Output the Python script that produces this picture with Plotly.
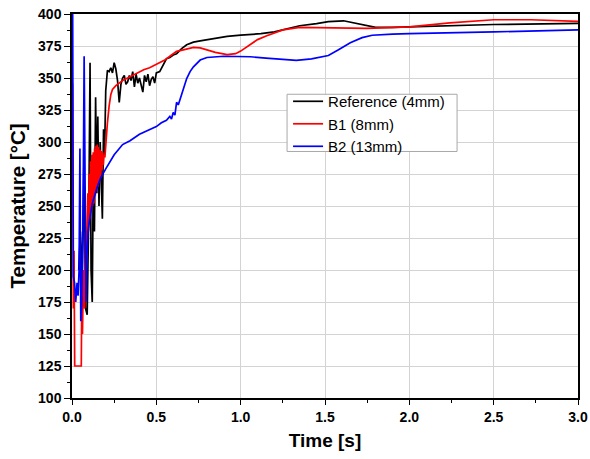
import plotly.graph_objects as go

# ---------------- data ----------------
ref_t = [0.04, 0.05, 0.06, 0.07, 0.08, 0.09, 0.10, 0.107, 0.113, 0.12, 0.127, 0.133, 0.14, 0.147,
         0.153, 0.16, 0.167, 0.173, 0.18, 0.187, 0.193, 0.20, 0.21, 0.22, 0.23, 0.24, 0.25, 0.26,
         0.27, 0.28, 0.29, 0.30, 0.31, 0.32, 0.33, 0.34, 0.35, 0.36, 0.37, 0.38, 0.39, 0.40, 0.41,
         0.42, 0.43, 0.44, 0.45, 0.46, 0.47, 0.48, 0.49, 0.50, 0.52, 0.54, 0.56, 0.58, 0.60, 0.62,
         0.65, 0.68, 0.72, 0.76, 0.85, 0.92, 1.00, 1.12, 1.20, 1.35, 1.45, 1.52, 1.61, 1.70, 1.80,
         1.90, 2.00, 2.50, 3.00]
ref_T = [200, 230, 190, 280, 170, 165, 250, 362, 200, 175, 290, 230, 335, 260,
         320, 250, 300, 270, 240, 310, 290, 340, 356, 355, 358, 354, 362, 357,
         348, 331, 345, 350, 352, 345, 347, 352, 348, 355, 343, 353, 346, 350, 344,
         339, 352, 347, 353, 344, 349, 351, 346, 354, 355, 360, 365, 366, 368, 369,
         373, 376, 378, 379, 381, 382.5, 383.5, 384.6, 386, 390.8, 392.5, 394, 394.7, 392, 389.5,
         389.5, 390, 391.8, 392.6]

b1_t = [0.0, 0.003, 0.008, 0.012, 0.016, 0.02, 0.03, 0.04, 0.05, 0.055, 0.058, 0.062, 0.068,
        0.075, 0.08, 0.085, 0.09, 0.094, 0.098, 0.102, 0.106, 0.11, 0.114, 0.118, 0.122, 0.126,
        0.13, 0.134, 0.138, 0.142, 0.146, 0.15, 0.154, 0.158, 0.162, 0.166, 0.17, 0.174, 0.178,
        0.182, 0.186, 0.19, 0.195, 0.20, 0.21, 0.22, 0.23, 0.24, 0.26, 0.28, 0.30, 0.33, 0.37,
        0.425, 0.46, 0.50, 0.55, 0.58, 0.62, 0.66, 0.72, 0.76, 0.80, 0.85, 0.92, 0.97, 1.00,
        1.06, 1.10, 1.155, 1.25, 1.35, 1.52, 1.75, 2.00, 2.24, 2.50, 2.72, 3.00]
b1_T = [345, 345, 170, 215, 125, 125, 125, 125, 125, 125, 180, 150, 200,
        170, 230, 210, 240, 260, 230, 275, 240, 285, 245, 290, 250, 292,
        252, 295, 258, 297, 262, 298, 265, 296, 268, 294, 272, 293, 278,
        292, 282, 290, 288, 300, 315, 328, 337, 341, 344, 346, 348, 350, 353,
        356.5, 358, 360.4, 364, 367, 370.8, 372, 373.9, 373.5, 372, 370, 368.2, 369, 371,
        376.3, 380, 383, 387.6, 389.5, 389, 388.7, 390, 393, 395.5, 395.5, 394.2]

b2_t = [0.0, 0.004, 0.008, 0.015, 0.022, 0.03, 0.036, 0.042, 0.047, 0.052, 0.058, 0.065, 0.072,
        0.078, 0.083, 0.088, 0.095, 0.105, 0.12, 0.15, 0.17, 0.20, 0.25, 0.30, 0.344, 0.40,
        0.45, 0.50, 0.53, 0.56, 0.58, 0.59, 0.60, 0.61, 0.62, 0.63, 0.64, 0.66, 0.68, 0.70,
        0.72, 0.76, 0.80, 0.90, 1.00, 1.057, 1.15, 1.25, 1.33, 1.42, 1.52, 1.58, 1.65, 1.72,
        1.78, 1.90, 2.00, 2.50, 3.00]
b2_T = [400, 400, 195, 190, 175, 190, 180, 200, 295, 160, 175, 230, 367,
        200, 175, 210, 230, 240, 252, 265, 272, 279, 290, 298, 301, 306,
        309, 312, 315, 317, 320, 318, 323, 321, 331, 329, 333, 341, 349.6, 355,
        358.7, 364, 366, 367, 367, 366.6, 365.5, 364.2, 363.7, 365, 367.6, 372, 377.6, 381.5,
        383.4, 384.3, 384.7, 386, 387.6]

series_names = ["Reference (4mm)", "B1 (8mm)", "B2 (13mm)"]
series_colors = ["#000000", "#ff0000", "#0000ff"]

x_ticks = [0.0, 0.5, 1.0, 1.5, 2.0, 2.5, 3.0]
y_ticks = [100, 125, 150, 175, 200, 225, 250, 275, 300, 325, 350, 375, 400]

# ---------------- figure ----------------
fig = go.Figure()
for t, T, name, col in zip([ref_t, b1_t, b2_t], [ref_T, b1_T, b2_T], series_names, series_colors):
    fig.add_trace(go.Scatter(x=t, y=T, mode="lines", name=name,
                             line=dict(color=col, width=1.7)))

font_family = "Arial, Liberation Sans, sans-serif"
fig.update_layout(
    width=590, height=459,
    margin=dict(l=72, r=12, t=13.5, b=61),
    paper_bgcolor="white", plot_bgcolor="white",
    font=dict(family=font_family, color="#000000"),
    showlegend=True,
    legend=dict(x=0.427, y=0.815, xanchor="left", yanchor="top",
                bgcolor="rgba(0,0,0,0)", borderwidth=0,
                font=dict(size=15, family=font_family), tracegroupgap=0,
                itemwidth=30),
    shapes=[dict(type="rect", xref="paper", yref="paper",
                 x0=0.425, x1=0.761, y0=0.642, y1=0.791,
                 line=dict(color="#a8a8a8", width=1), fillcolor="white", layer="above")],
)
fig.update_xaxes(
    range=[0, 3.0], tickvals=x_ticks, ticktext=[f"{v:.1f}" for v in x_ticks],
    automargin=False, ticklabeloverflow="allow",
    showgrid=True, gridcolor="#d3d3d3", gridwidth=1.2,
    showline=True, linecolor="black", linewidth=1.5, mirror=True,
    ticks="outside", ticklen=5, tickwidth=1.2, tickcolor="black",
    minor=dict(dtick=0.25, tick0=0, ticks="outside", ticklen=3, tickwidth=1.2, tickcolor="black", showgrid=False),
    tickfont=dict(size=14, family=font_family, weight="bold"),
    title=dict(text="<b>Time [s]</b>", font=dict(size=19, family=font_family), standoff=10),
    zeroline=False,
)
fig.update_yaxes(
    range=[100, 400], tickvals=y_ticks, ticktext=[str(v) for v in y_ticks],
    automargin=False, ticklabeloverflow="allow",
    showgrid=True, gridcolor="#d3d3d3", gridwidth=1.2,
    showline=True, linecolor="black", linewidth=1.5, mirror=True,
    ticks="outside", ticklen=6, tickwidth=1.2, tickcolor="black",
    minor=dict(dtick=12.5, tick0=100, ticks="outside", ticklen=3, tickwidth=1.2, tickcolor="black", showgrid=False),
    tickfont=dict(size=14, family=font_family, weight="bold"),
    title=dict(text="<b>Temperature [°C]</b>", font=dict(size=20.5, family=font_family), standoff=7),
    zeroline=False,
)

# remove the browser's default 8px body margin so the figure sits at the page corner
fig.write_html("out.html", config={"displayModeBar": False},
               post_script="document.body.style.margin='0px';")
